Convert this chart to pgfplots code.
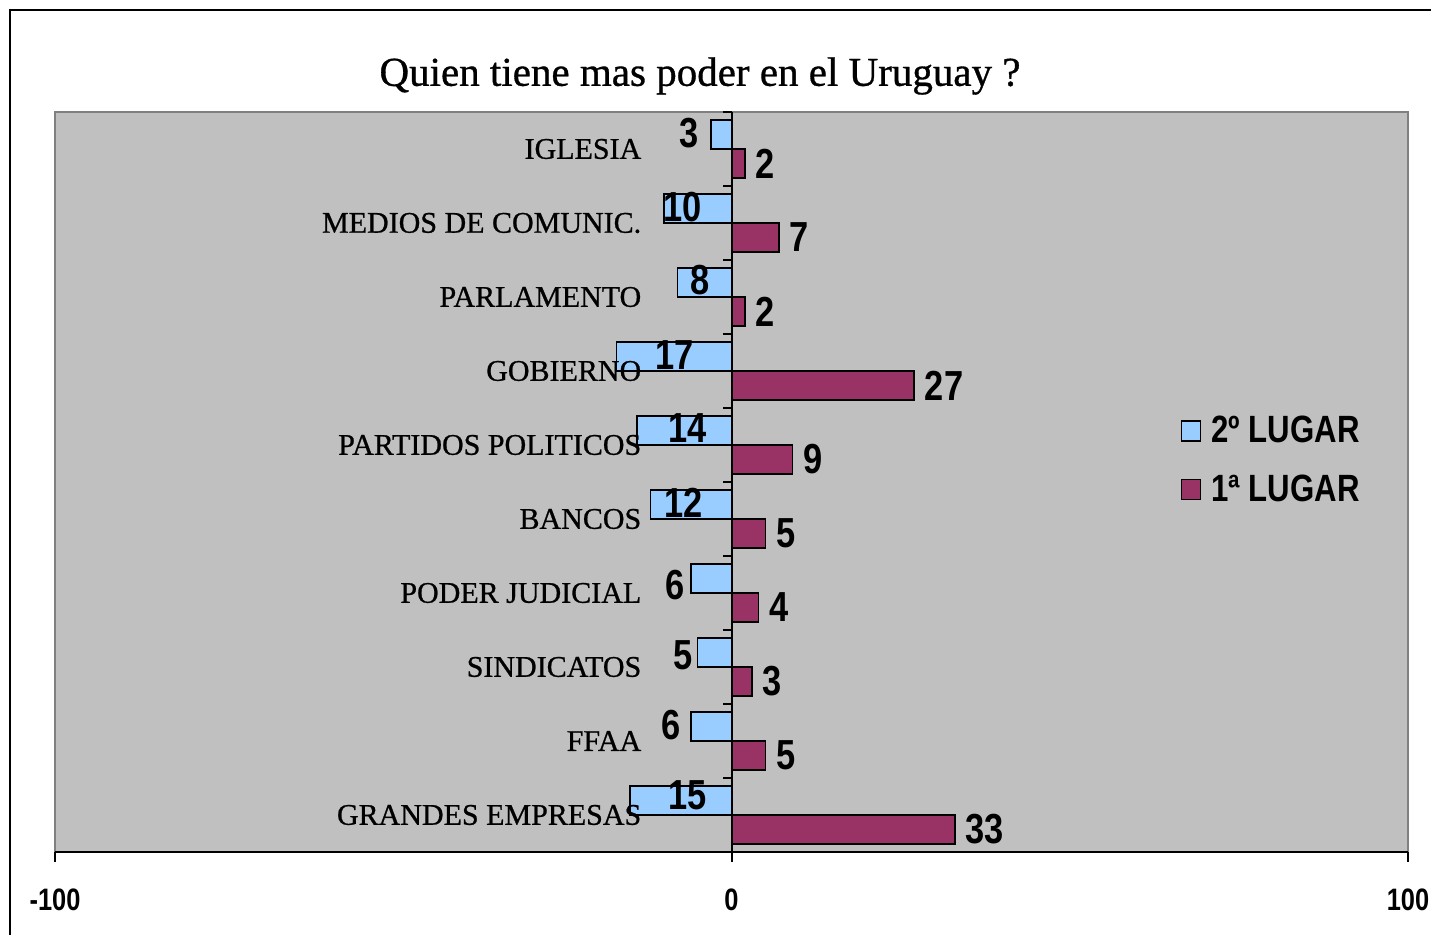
\documentclass[border=0pt]{standalone}
\usepackage{fontspec}
\setmainfont{Liberation Serif}
\newfontfamily\darkserif[FakeBold=0.8]{Liberation Serif}
\newfontfamily\nb[FakeStretch=0.82]{Liberation Sans}
\usepackage{pgfplots}
\pgfplotsset{compat=1.18}
\definecolor{plotgray}{RGB}{192,192,192}
\definecolor{framegray}{RGB}{128,128,128}
\definecolor{bblue}{RGB}{153,204,255}
\definecolor{mmaroon}{RGB}{153,51,102}
\newcommand{\valfont}{\nb\bfseries\fontsize{21}{25}\selectfont}
\newcommand{\catfont}{\darkserif\fontsize{15}{18}\selectfont}
\begin{document}
\begin{tikzpicture}
\useasboundingbox (0pt,0pt) rectangle (715.5pt,467.5pt);
\clip (0pt,0pt) rectangle (715.5pt,467.5pt);
\draw[line width=1.1pt] (5pt,-10pt) -- (5pt,462.5pt) -- (730pt,462.5pt);
\node[font=\darkserif\fontsize{20.5}{25}\selectfont] at (350pt,429.5pt) {Quien tiene mas poder en el Uruguay ?};
\begin{axis}[
  at={(27.5pt,41.5pt)}, anchor=south west,
  scale only axis, width=676.5pt, height=370pt,
  xmin=-100, xmax=100, ymin=-0.5, ymax=9.5,
  xbar, bar width=14.5pt,
  axis line style={draw=none},
  axis background/.style={fill=plotgray},
  xtick={-100,0,100}, xtick pos=bottom, tick align=outside,
  major tick length=5pt, tick style={black, line width=1pt},
  ytick=\empty,
  xticklabel style={font=\nb\bfseries\fontsize{15.5}{18}\selectfont, yshift=-10pt},
  /pgf/number format/assume math mode=true,
  legend style={at={(rel axis cs:0.8272,0.600)}, anchor=north west, draw=none, fill=none,
    font=\nb\bfseries\fontsize{19}{23}\selectfont, row sep=10.5pt},
  legend cell align=left,
  legend image code/.code={\draw[#1, line width=0.8pt] (0pt,-5pt) rectangle (9.5pt,5pt); \path[draw=none, fill=none] (0pt,0pt) -- (13pt,0pt);},
  clip=false,
]
\addplot[fill=bblue, draw=black, line width=0.8pt, bar shift=7.25pt] coordinates {
  (-3,9) (-10,8) (-8,7) (-17,6) (-14,5) (-12,4) (-6,3) (-5,2) (-6,1) (-15,0)};
\addlegendentry{2º LUGAR}
\addplot[fill=mmaroon, draw=black, line width=0.8pt, bar shift=-7.25pt,
  nodes near coords,
  every node near coord/.append style={font=\valfont, anchor=west, inner sep=0pt, xshift=5pt, text=black}]
  coordinates {
  (2,9) (7,8) (2,7) (27,6) (9,5) (5,4) (4,3) (3,2) (5,1) (33,0)};
\addlegendentry{1ª LUGAR}
% frame
\draw[framegray, line width=1pt] (rel axis cs:0,0) -- (rel axis cs:0,1) -- (rel axis cs:1,1) -- (rel axis cs:1,0);
\draw[black, line width=1.2pt] (rel axis cs:0,0) -- (rel axis cs:1,0);
\draw[black, line width=1pt] (axis cs:0,-0.5) -- (axis cs:0,9.5);
\pgfplotsinvokeforeach{-0.5,0.5,1.5,2.5,3.5,4.5,5.5,6.5,7.5,8.5,9.5}{\draw[black, line width=1pt] (axis cs:0,#1) -- ++(-4.5pt,0pt);}
% blue value labels
\node[font=\valfont] at (axis cs:-6.2,9.22) {3};
\node[font=\valfont] at (axis cs:-7.2,8.22) {10};
\node[font=\valfont] at (axis cs:-4.7,7.23) {8};
\node[font=\valfont] at (axis cs:-8.4,6.22) {17};
\node[font=\valfont] at (axis cs:-6.5,5.23) {14};
\node[font=\valfont] at (axis cs:-7.1,4.22) {12};
\node[font=\valfont] at (axis cs:-8.3,3.11) {6};
\node[font=\valfont] at (axis cs:-7.1,2.16) {5};
\node[font=\valfont] at (axis cs:-8.9,1.22) {6};
\node[font=\valfont] at (axis cs:-6.5,0.27) {15};
% category labels
\node[anchor=east, font=\catfont] at (axis cs:-12.3,9) {IGLESIA};
\node[anchor=east, font=\catfont] at (axis cs:-12.3,8) {MEDIOS DE COMUNIC.};
\node[anchor=east, font=\catfont] at (axis cs:-12.3,7) {PARLAMENTO};
\node[anchor=east, font=\catfont] at (axis cs:-12.3,6) {GOBIERNO};
\node[anchor=east, font=\catfont] at (axis cs:-12.3,5) {PARTIDOS POLITICOS};
\node[anchor=east, font=\catfont] at (axis cs:-12.3,4) {BANCOS};
\node[anchor=east, font=\catfont] at (axis cs:-12.3,3) {PODER JUDICIAL};
\node[anchor=east, font=\catfont] at (axis cs:-12.3,2) {SINDICATOS};
\node[anchor=east, font=\catfont] at (axis cs:-12.3,1) {FFAA};
\node[anchor=east, font=\catfont] at (axis cs:-12.3,0) {GRANDES EMPRESAS};
\end{axis}
\end{tikzpicture}
\end{document}
